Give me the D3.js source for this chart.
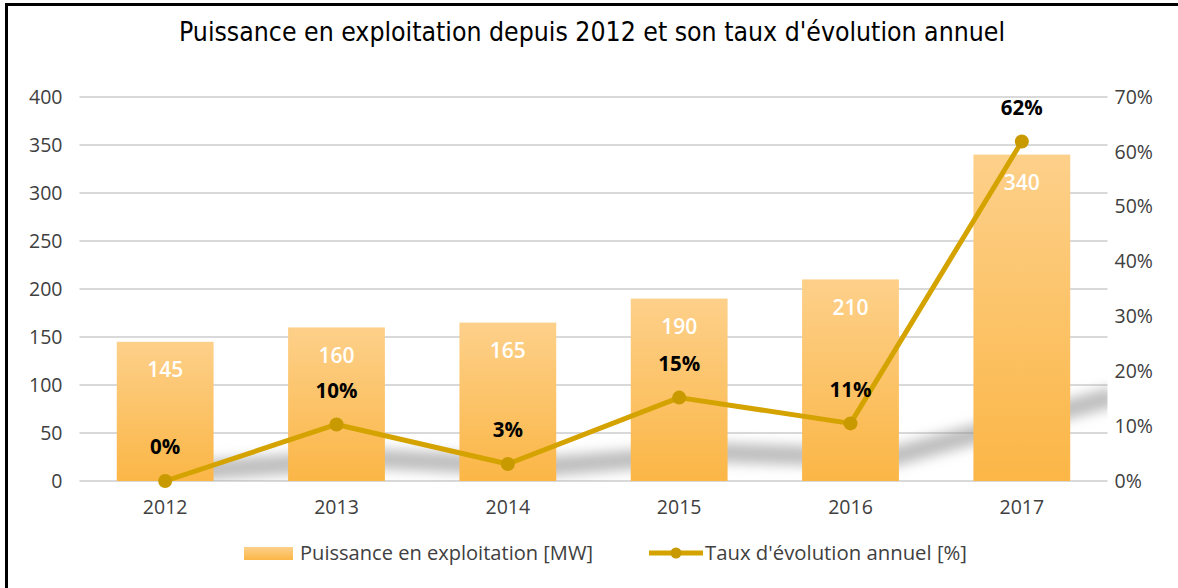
<!DOCTYPE html>
<html><head><meta charset="utf-8">
<script src="https://cdn.jsdelivr.net/npm/d3@7/dist/d3.min.js"></script>
<style>
body{margin:0;background:#fff;}
svg{display:block;}
</style></head>
<body>
<svg id="chart" width="1178" height="588"></svg>
<script>
const categories = ["2012","2013","2014","2015","2016","2017"];
const puissance = [145,160,165,190,210,340];
const taux = [0,10.3,3.1,15.2,10.5,61.9];
const tauxLabels = ["0%","10%","3%","15%","11%","62%"];
const leftTicks = [0,50,100,150,200,250,300,350,400];
const rightTicks = [0,10,20,30,40,50,60,70];
const title = "Puissance en exploitation depuis 2012 et son taux d'évolution annuel";
const legendBar = "Puissance en exploitation [MW]";
const legendLine = "Taux d'évolution annuel [%]";

const svg = d3.select("#chart");
const W = 1178, H = 588;
const m = {left:79.5, right:1107.5, top:97, bottom:481};
const font = "'Open Sans', 'Noto Sans', sans-serif";
const lineColor = "#D4A300";
const markerColor = "#C99A00";

const x = d3.scaleBand().domain(categories).range([m.left, m.right]).paddingInner(0.435).paddingOuter(0.2175);
const yL = d3.scaleLinear().domain([0,400]).range([m.bottom, m.top]);
const yR = d3.scaleLinear().domain([0,70]).range([m.bottom, m.top]);

const defs = svg.append("defs");
const grad = defs.append("linearGradient").attr("id","barGrad").attr("x1",0).attr("y1",0).attr("x2",0).attr("y2",1);
grad.append("stop").attr("offset","0%").attr("stop-color","#FDD08A");
grad.append("stop").attr("offset","100%").attr("stop-color","#FBB646");
const blur = defs.append("filter").attr("id","shadowBlur").attr("x","-20%").attr("y","-50%").attr("width","140%").attr("height","200%");
blur.append("feGaussianBlur").attr("stdDeviation",6);
defs.append("clipPath").attr("id","plotClip").append("rect")
  .attr("x",m.left).attr("y",m.top).attr("width",m.right-m.left).attr("height",m.bottom-m.top);

// border
svg.append("line").attr("x1",5).attr("x2",W).attr("y1",4.5).attr("y2",4.5).attr("stroke","#000").attr("stroke-width",3);
svg.append("line").attr("x1",6.5).attr("x2",6.5).attr("y1",3).attr("y2",H).attr("stroke","#000").attr("stroke-width",3);

// title
svg.append("text").attr("x",592).attr("y",41).attr("text-anchor","middle")
  .attr("font-family","'Liberation Sans Narrow','DejaVu Sans Condensed','Open Sans',sans-serif")
  .attr("font-size",27).attr("fill","#000")
  .attr("textLength",826).attr("lengthAdjust","spacingAndGlyphs")
  .text(title);

// gridlines
svg.append("g").selectAll("line").data(leftTicks).join("line")
  .attr("x1",m.left).attr("x2",m.right)
  .attr("y1",d=>yL(d)).attr("y2",d=>yL(d))
  .attr("stroke","#D9D9D9").attr("stroke-width",2);

// left axis
const axL = svg.append("g").attr("transform",`translate(${m.left},0)`)
  .call(d3.axisLeft(yL).tickValues(leftTicks).tickSize(0).tickPadding(17));
axL.select(".domain").remove();
axL.selectAll("text").attr("font-family",font).attr("font-size",19.5).attr("fill","#404040");

// right axis
const axR = svg.append("g").attr("transform",`translate(${m.right},0)`)
  .call(d3.axisRight(yR).tickValues(rightTicks).tickSize(0).tickPadding(7).tickFormat(d=>d+"%"));
axR.select(".domain").remove();
axR.selectAll("text").attr("font-family",font).attr("font-size",19.5).attr("fill","#404040");

// bottom axis
const axB = svg.append("g").attr("transform",`translate(0,${m.bottom})`)
  .call(d3.axisBottom(x).tickSize(0).tickPadding(19));
axB.select(".domain").remove();
axB.selectAll("text").attr("font-family",font).attr("font-size",19.5).attr("fill","#404040");

// perspective shadow of line
const cx = (d,i)=>x(categories[i])+x.bandwidth()/2;
const shadowLine = d3.line()
  .x((d,i)=>cx(d,i) + 0.2*(m.bottom-yR(d)) + 25)
  .y(d=>m.bottom - 0.22*(m.bottom-yR(d)) - 10);
svg.append("g").attr("clip-path","url(#plotClip)")
  .append("path").datum(taux).attr("d",shadowLine)
  .attr("fill","none").attr("stroke","#8a8a8a").attr("stroke-width",20)
  .attr("stroke-opacity",0.55).attr("filter","url(#shadowBlur)");

// bars
svg.append("g").selectAll("rect").data(puissance).join("rect")
  .attr("x",(d,i)=>x(categories[i])).attr("width",x.bandwidth())
  .attr("y",d=>yL(d)).attr("height",d=>m.bottom-yL(d))
  .attr("fill","url(#barGrad)");

// bar labels
svg.append("g").selectAll("text").data(puissance).join("text")
  .attr("x",(d,i)=>cx(d,i)).attr("y",d=>yL(d)+28).attr("dy","0.35em")
  .attr("text-anchor","middle").attr("font-family",font).attr("font-size",21).attr("font-weight",600)
  .attr("fill","#fff").text(d=>d);

// line
const line = d3.line().x((d,i)=>cx(d,i)).y(d=>yR(d));
svg.append("path").datum(taux).attr("d",line).attr("fill","none")
  .attr("stroke",lineColor).attr("stroke-width",5).attr("stroke-linejoin","round");
svg.append("g").selectAll("circle").data(taux).join("circle")
  .attr("cx",(d,i)=>cx(d,i)).attr("cy",d=>yR(d)).attr("r",7).attr("fill",markerColor);

// line labels
svg.append("g").selectAll("text").data(taux).join("text")
  .attr("x",(d,i)=>cx(d,i)).attr("y",d=>yR(d)-34).attr("dy","0.35em")
  .attr("text-anchor","middle").attr("font-family",font).attr("font-size",20.5).attr("font-weight","bold")
  .attr("fill","#000").text((d,i)=>tauxLabels[i]);

// legend
const lg = svg.append("g");
lg.append("rect").attr("x",244).attr("y",547).attr("width",49).attr("height",13).attr("fill","url(#barGrad)");
lg.append("text").attr("x",300).attr("y",553.5).attr("dy","0.35em").attr("font-family",font).attr("font-size",19.5)
  .attr("fill","#404040").attr("textLength",293).attr("lengthAdjust","spacingAndGlyphs").text(legendBar);
lg.append("line").attr("x1",649).attr("x2",703).attr("y1",553).attr("y2",553).attr("stroke",lineColor).attr("stroke-width",5);
lg.append("circle").attr("cx",676).attr("cy",553).attr("r",5.5).attr("fill",markerColor);
lg.append("text").attr("x",705).attr("y",553.5).attr("dy","0.35em").attr("font-family",font).attr("font-size",19.5)
  .attr("fill","#404040").attr("textLength",262).attr("lengthAdjust","spacingAndGlyphs").text(legendLine);
</script>
</body></html>
